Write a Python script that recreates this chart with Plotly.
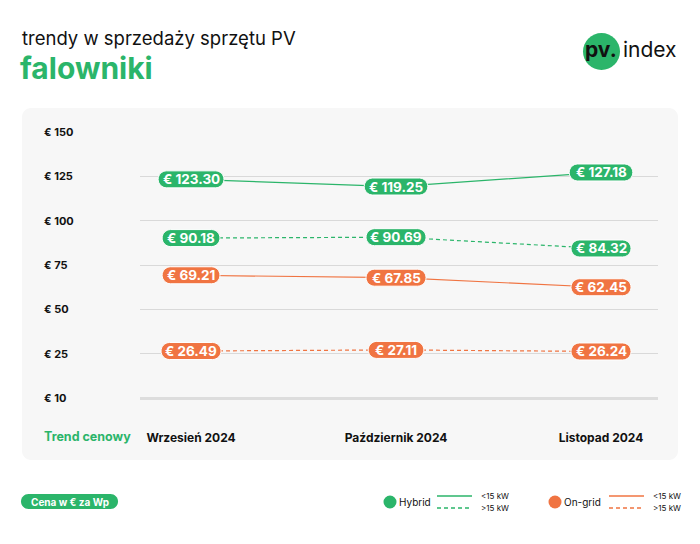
import plotly.graph_objects as go

months = ["Wrzesień 2024", "Październik 2024", "Listopad 2024"]
hybrid_lt15 = [123.30, 119.25, 127.18]
hybrid_gt15 = [90.18, 90.69, 84.32]
ongrid_lt15 = [69.21, 67.85, 62.45]
ongrid_gt15 = [26.49, 27.11, 26.24]
y_tickvals = [150, 125, 100, 75, 50, 25, 0]
y_ticktext = ["€ 150", "€ 125", "€ 100", "€ 75", "€ 50", "€ 25", "€ 10"]

GREEN = "#2BB56A"
ORANGE = "#F07442"
OFF = 8  # page body margin
W, H = 700 - OFF, 544 - OFF
ML, MR, MT, MB = 140 - OFF, 42, 132 - OFF, 146
PW, PH = W - ML - MR, H - MT - MB
FONT = "Inter"


def px(x):
    return (x - OFF - ML) / PW


def py(y):
    return (H - MB - (y - OFF)) / PH


def rrect_paper(x0, y0, x1, y1, r):
    k = 0.552 * r

    def P(x, y):
        return f"{px(x):.5f},{py(y):.5f}"
    return (
        f"M {P(x0 + r, y0)} L {P(x1 - r, y0)} "
        f"C {P(x1 - r + k, y0)} {P(x1, y0 + r - k)} {P(x1, y0 + r)} "
        f"L {P(x1, y1 - r)} "
        f"C {P(x1, y1 - r + k)} {P(x1 - r + k, y1)} {P(x1 - r, y1)} "
        f"L {P(x0 + r, y1)} "
        f"C {P(x0 + r - k, y1)} {P(x0, y1 - r + k)} {P(x0, y1 - r)} "
        f"L {P(x0, y0 + r)} "
        f"C {P(x0, y0 + r - k)} {P(x0 + r - k, y0)} {P(x0 + r, y0)} Z"
    )


def pill_path(w, h):
    r = h / 2
    k = 0.552 * r
    a = w / 2 - r
    return (
        f"M {-a},{-r} L {a},{-r} C {a + k},{-r} {a + r},{-k} {a + r},0 "
        f"C {a + r},{k} {a + k},{r} {a},{r} L {-a},{r} "
        f"C {-a - k},{r} {-a - r},{k} {-a - r},0 C {-a - r},{-k} {-a - k},{-r} {-a},{-r} Z"
    )


def text_w(s):
    w = 0
    for c in s:
        if c == "1":
            w += 5.8
        elif c in ". ":
            w += 3.6
        elif c == "€":
            w += 8.8
        else:
            w += 8.0
    return w + 12


fig = go.Figure()
shapes = []
annotations = []

# panel background
shapes.append(dict(type="path", xref="paper", yref="paper", layer="below",
                   path=rrect_paper(22, 108, 678, 460, 9),
                   fillcolor="#F7F7F7", line=dict(width=0)))

xs = list(range(len(months)))
series = [
    (hybrid_lt15, GREEN, "solid"),
    (hybrid_gt15, GREEN, "dash"),
    (ongrid_lt15, ORANGE, "solid"),
    (ongrid_gt15, ORANGE, "dash"),
]
for vals, col, dash in series:
    fig.add_trace(go.Scatter(x=xs, y=vals, mode="lines",
                             line=dict(color=col, width=1.2, dash="solid" if dash == "solid" else "4px,3px"),
                             hoverinfo="skip", showlegend=False))

for vals, col, dash in series:
    for xi, v in zip(xs, vals):
        txt = f"€ {v:.2f}"
        w = text_w(txt)
        shapes.append(dict(type="path", xref="x", yref="y", xsizemode="pixel", ysizemode="pixel",
                           xanchor=xi, yanchor=v, path=pill_path(w, 17), layer="above",
                           fillcolor=col, line=dict(color="white", width=1)))
        annotations.append(dict(x=xi, y=v, xref="x", yref="y", text=f"<b>{txt}</b>", showarrow=False,
                                font=dict(family=FONT, size=13.5, color="white"),
                                xanchor="center", yanchor="middle"))

# y tick labels, left aligned
for tv, tt in zip(y_tickvals, y_ticktext):
    annotations.append(dict(x=px(42), y=tv, xref="paper", yref="y", text=f"<b>{tt}</b>", showarrow=False,
                            xanchor="left", yanchor="middle", font=dict(family=FONT, size=11, color="#111")))

annotations.append(dict(x=px(42), y=py(436), xref="paper", yref="paper", text="<b>Trend cenowy</b>",
                        showarrow=False, xanchor="left", yanchor="middle",
                        font=dict(family=FONT, size=12.5, color=GREEN)))

# titles
annotations.append(dict(x=px(20), y=py(38), xref="paper", yref="paper", text="trendy w sprzedaży sprzętu PV",
                        showarrow=False, xanchor="left", yanchor="middle",
                        font=dict(family=FONT, size=18.5, color="#111")))
annotations.append(dict(x=px(18), y=py(67.5), xref="paper", yref="paper", text="<b>falowniki</b>",
                        showarrow=False, xanchor="left", yanchor="middle",
                        font=dict(family=FONT, size=30, color=GREEN)))

# logo
shapes.append(dict(type="circle", xref="paper", yref="paper", x0=px(583), x1=px(620), y0=py(70), y1=py(33),
                   fillcolor=GREEN, line=dict(width=0)))
annotations.append(dict(x=px(601), y=py(50), xref="paper", yref="paper", text="<b>pv.</b>",
                        showarrow=False, xanchor="center", yanchor="middle",
                        font=dict(family=FONT, size=21, color="#111")))
annotations.append(dict(x=px(621), y=py(49), xref="paper", yref="paper", text="index",
                        showarrow=False, xanchor="left", yanchor="middle",
                        font=dict(family=FONT, size=21, color="#111")))

# bottom-left pill
shapes.append(dict(type="path", xref="paper", yref="paper", path=rrect_paper(21, 494, 118, 509, 7.5),
                   fillcolor=GREEN, line=dict(width=0)))
annotations.append(dict(x=px(69.5), y=py(501.5), xref="paper", yref="paper", text="<b>Cena w € za Wp</b>",
                        showarrow=False, xanchor="center", yanchor="middle",
                        font=dict(family=FONT, size=10, color="white")))

# legend
for cx, name, col, lx0 in [(390, "Hybrid", GREEN, 437), (555, "On-grid", ORANGE, 609)]:
    shapes.append(dict(type="circle", xref="paper", yref="paper", x0=px(cx - 6.5), x1=px(cx + 6.5),
                       y0=py(508.5), y1=py(495.5), fillcolor=col, line=dict(width=0)))
    annotations.append(dict(x=px(cx + 7), y=py(502), xref="paper", yref="paper", text=name, showarrow=False,
                            xanchor="left", yanchor="middle", font=dict(family=FONT, size=10, color="#111")))
    shapes.append(dict(type="line", xref="paper", yref="paper", x0=px(lx0), x1=px(lx0 + 35),
                       y0=py(496), y1=py(496), line=dict(color=col, width=1.5)))
    shapes.append(dict(type="line", xref="paper", yref="paper", x0=px(lx0), x1=px(lx0 + 35),
                       y0=py(508), y1=py(508), line=dict(color=col, width=1.5, dash="4px,3px")))
    annotations.append(dict(x=px(lx0 + 42), y=py(496), xref="paper", yref="paper", text="<15 kW",
                            showarrow=False, xanchor="left", yanchor="middle",
                            font=dict(family=FONT, size=8, color="#111")))
    annotations.append(dict(x=px(lx0 + 42), y=py(508), xref="paper", yref="paper", text=">15 kW",
                            showarrow=False, xanchor="left", yanchor="middle",
                            font=dict(family=FONT, size=8, color="#111")))

fig.update_layout(
    width=W, height=H,
    margin=dict(l=ML, r=MR, t=MT, b=MB),
    paper_bgcolor="white", plot_bgcolor="rgba(0,0,0,0)",
    shapes=shapes, annotations=annotations,
    showlegend=False,
    xaxis=dict(range=[-0.249, 2.278], tickvals=xs, ticktext=[f"<b>{m}</b>" for m in months],
               showgrid=False, zeroline=False, showline=False, ticks="",
               tickfont=dict(family=FONT, size=12, color="#111"), ticklabelstandoff=31,
               fixedrange=True),
    yaxis=dict(range=[0, 150], tickvals=y_tickvals, showticklabels=False, showgrid=True,
               gridcolor="#D9D9D9", gridwidth=1, zeroline=True, zerolinecolor="#DDDDDD", zerolinewidth=2.5,
               showline=False, ticks="", fixedrange=True),
)

fig.write_html("out.html")
